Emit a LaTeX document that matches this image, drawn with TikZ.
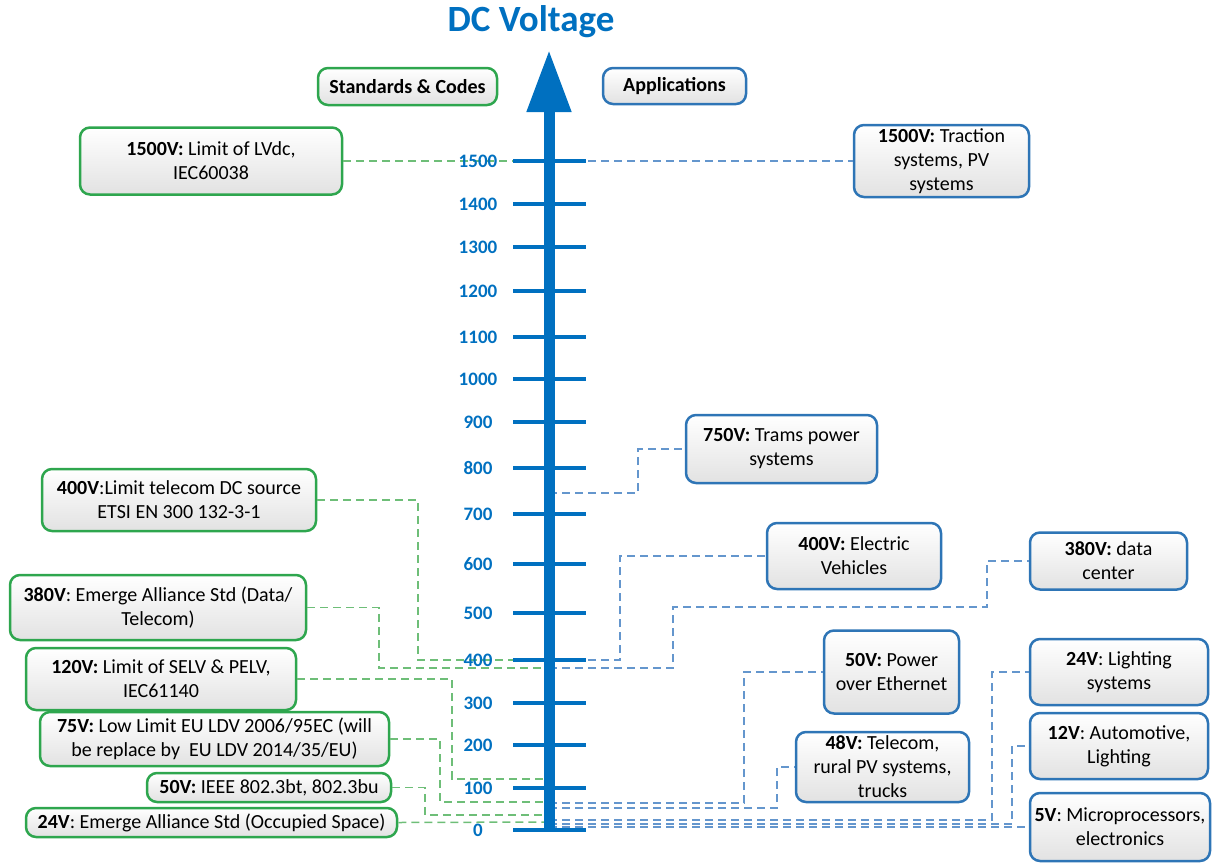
\documentclass[tikz,border=0pt]{standalone}
\usepackage{fontspec}
\setmainfont{Carlito}
\usepackage{tikz}
\usetikzlibrary{arrows.meta}
\usepackage{color}
\definecolor{axisblue}{RGB}{0,112,192}
\definecolor{stdgreen}{RGB}{46,166,78}
\definecolor{appblue}{RGB}{46,117,182}
\definecolor{linkgreen}{RGB}{110,190,120}
\definecolor{linkblue}{RGB}{100,150,205}
\definecolor{boxgray}{RGB}{226,226,226}

\begin{document}
\begin{tikzpicture}[
        x=1pt, y=-1pt,
        stdbox/.style={draw=stdgreen, line width=2.5pt, rounded corners=10pt, top color=white, bottom color=boxgray, align=center, inner sep=2pt, font=\fontsize{20}{24}\selectfont},
        appbox/.style={stdbox, draw=appblue},
        stdlink/.style={draw=linkgreen, line width=1.5pt, dash pattern=on 8pt off 5pt},
        applink/.style={stdlink, draw=linkblue},
        tickline/.style={draw=axisblue, line width=4pt},
        ticklabel/.style={text=axisblue, font=\fontsize{19}{22}\selectfont\bfseries},
        axisline/.style={draw=axisblue, line width=11pt}
    ]
    \useasboundingbox (0,0) rectangle (1228,862);

    % 标题
    \node[text=axisblue, font=\fontsize{37}{44}\selectfont\bfseries] (title) at (531,22) {DC Voltage};

    % 表头
    \node[stdbox, font=\fontsize{20}{24}\selectfont\bfseries, minimum width=179pt, minimum height=37pt] (hstd) at (407.5,86.5) {Standards \& Codes};
    \node[appbox, font=\fontsize{20}{24}\selectfont\bfseries, minimum width=143pt, minimum height=36pt] (happ) at (674.5,86) {Applications};

    % 轴上的连接点
    \coordinate (sv1500) at (549,161);
    \coordinate (sv400) at (549,660);
    \coordinate (sv380) at (549,668);
    \coordinate (sv120) at (549,779);
    \coordinate (sv75) at (549,802);
    \coordinate (sv50) at (549,815);
    \coordinate (sv24) at (549,822);
    \coordinate (av1500) at (549,161);
    \coordinate (av750) at (549,493);
    \coordinate (av400) at (549,660);
    \coordinate (av380) at (549,668);
    \coordinate (av50) at (549,803);
    \coordinate (av48) at (549,808);
    \coordinate (av24) at (549,820);
    \coordinate (av12) at (549,824);
    \coordinate (av5) at (549,827);

    % 标准与规范
    \node[stdbox, minimum width=262pt, minimum height=67pt] (s1500) at (211,161) {\textbf{1500V:} Limit of LVdc,\\ IEC60038};
    \node[stdbox, minimum width=274pt, minimum height=62pt] (s400) at (179,500) {\textbf{400V}:Limit telecom DC source\\ ETSI EN 300 132-3-1};
    \node[stdbox, minimum width=296pt, minimum height=65pt] (s380) at (158,607.5) {\textbf{380V}: Emerge Alliance Std (Data/\\ Telecom)};
    \node[stdbox, minimum width=270pt, minimum height=62pt] (s120) at (161,679) {\textbf{120V:} Limit of SELV \& PELV,\\ IEC61140};
    \node[stdbox, minimum width=349pt, minimum height=54pt] (s75) at (214.5,739) {\textbf{75V:} Low Limit EU LDV 2006/95EC (will\\ be replace by~ EU LDV 2014/35/EU)};
    \node[stdbox, minimum width=244pt, minimum height=29pt] (s50) at (269,787.5) {\textbf{50V:} IEEE 802.3bt, 802.3bu};
    \node[stdbox, minimum width=371pt, minimum height=29pt] (s24) at (211.5,822.5) {\textbf{24V}: Emerge Alliance Std (Occupied Space)};

    \draw[stdlink] (s1500.east) -- (sv1500);
    \draw[stdlink] (s400.east) -| (418,660) -- (sv400);
    \draw[stdlink] (s380.east) -| (379,668) -- (sv380);
    \draw[stdlink] (s120.east) -| (452,779) -- (sv120);
    \draw[stdlink] (s75.east) -| (440,802) -- (sv75);
    \draw[stdlink] (s50.east) -| (425,815) -- (sv50);
    \draw[stdlink] (s24.east) -- (sv24);

    % 应用
    \node[appbox, minimum width=175pt, minimum height=72pt] (a1500) at (941.5,161) {\textbf{1500V:} Traction\\ systems, PV\\ systems};
    \node[appbox, minimum width=191pt, minimum height=68pt] (a750) at (781.5,449) {\textbf{750V:} Trams power\\ systems};
    \node[appbox, minimum width=174pt, minimum height=66pt] (a400) at (854,556) {\textbf{400V:} Electric\\ Vehicles};
    \node[appbox, minimum width=157pt, minimum height=57pt] (a380) at (1108.5,561) {\textbf{380V:} data\\ center};
    \node[appbox, minimum width=135pt, minimum height=83pt] (a50) at (891.5,672) {\textbf{50V:} Power\\ over Ethernet};
    \node[appbox, minimum width=178pt, minimum height=66pt] (a24) at (1119,672) {\textbf{24V}: Lighting\\ systems};
    \node[appbox, minimum width=173pt, minimum height=70pt] (a48) at (882.5,767) {\textbf{48V:} Telecom,\\ rural PV systems,\\ trucks};
    \node[appbox, minimum width=178pt, minimum height=66pt] (a12) at (1119,746) {\textbf{12V}: Automotive,\\ Lighting};
    \node[appbox, minimum width=180pt, minimum height=68pt] (a5) at (1120,827) {\textbf{5V}: Microprocessors,\\ electronics};

    \draw[applink] (av1500) -- (a1500.west);
    \draw[applink] (av750) -| (638,449) -- (a750.west);
    \draw[applink] (av400) -| (620,556) -- (a400.west);
    \draw[applink] (av380) -| (673,607) -| (987,561) -- (a380.west);
    \draw[applink] (av50) -| (744,672) -- (a50.west);
    \draw[applink] (av48) -| (777,767) -- (a48.west);
    \draw[applink] (av24) -| (992,672) -- (a24.west);
    \draw[applink] (av12) -| (1012,746) -- (a12.west);
    \draw[applink] (av5) -- (a5.west);

    % 电压轴
    \draw[axisline, -{Triangle[length=62pt, width=42pt]}] (549,831) -- (549,50);

    % 刻度
    \foreach \v/\y in {0/830, 100/788, 200/745, 300/703, 400/660, 500/613, 600/564, 700/514, 800/468, 900/422, 1000/379, 1100/337, 1200/291, 1300/247, 1400/204, 1500/161} {
        \draw[tickline] (513,\y) -- (586,\y);
        \node[ticklabel] (t\v) at (478,\y) {\v};
    }

\end{tikzpicture}
\end{document}
